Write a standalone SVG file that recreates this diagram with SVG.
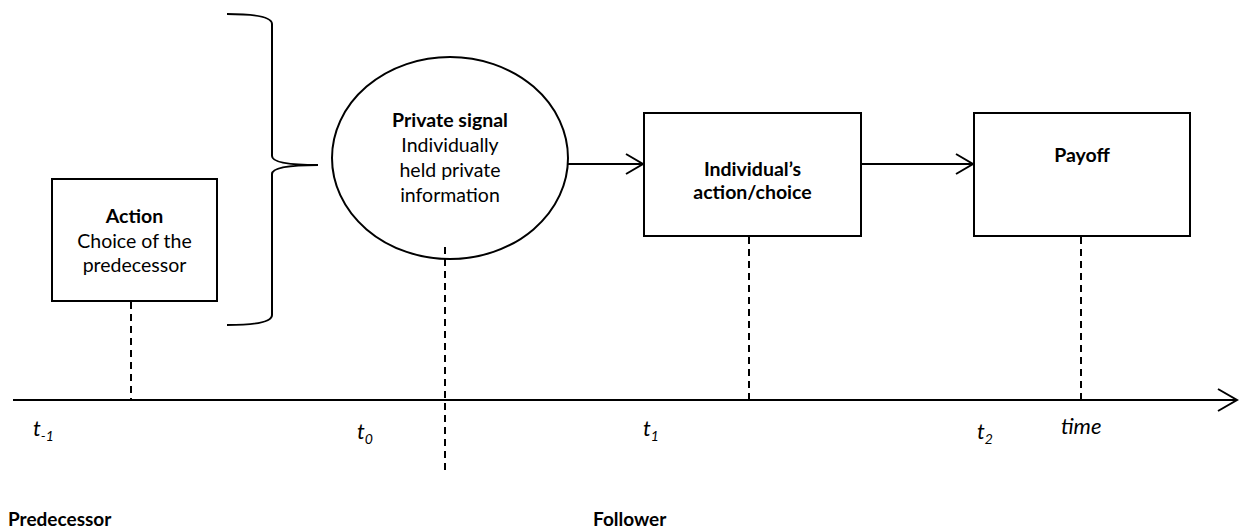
<svg xmlns="http://www.w3.org/2000/svg" width="1246" height="532" viewBox="0 0 1246 532">
  <style>
    .box { fill: #fff; stroke: #000; stroke-width: 2; }
    .line { fill: none; stroke: #000; stroke-width: 2; }
    .dash { fill: none; stroke: #000; stroke-width: 2; stroke-dasharray: 7 5; }
    .t { font-family: Lato, "Liberation Sans", sans-serif; font-size: 19.5px; fill: #000; text-anchor: middle; }
    .b { font-weight: bold; }
    .it { font-family: Lato, "Liberation Sans", sans-serif; font-style: italic; font-size: 22px; fill: #000; }
    .sub { font-size: 14px; }
    .lbl { font-family: Lato, "Liberation Sans", sans-serif; font-weight: bold; font-size: 19px; fill: #000; }
  </style>
  <defs>
    <marker id="open" viewBox="0 0 20 24" refX="18" refY="12" markerWidth="20" markerHeight="24" markerUnits="userSpaceOnUse" orient="auto">
      <path d="M1,2 L18,12 L1,22" fill="none" stroke="#000" stroke-width="2"/>
    </marker>
  </defs>

  <!-- time axis -->
  <g id="axis">
    <line class="line" x1="13" y1="400" x2="1237" y2="400"/>
    <path class="line" d="M1218,389 L1237,400 L1218,411"/>
    <text class="it" x="33" y="436">t<tspan class="sub" dy="5">-1</tspan></text>
    <text class="it" x="357" y="439">t<tspan class="sub" dy="5">0</tspan></text>
    <text class="it" x="643" y="436">t<tspan class="sub" dy="5">1</tspan></text>
    <text class="it" x="977" y="439">t<tspan class="sub" dy="5">2</tspan></text>
    <text class="it" x="1061" y="434">time</text>
  </g>

  <!-- brace grouping the predecessor's action -->
  <g id="brace">
    <path class="line" d="M227,14 Q272,14 272,24 L272,156 Q272,165 318,165 Q272,165 272,174 L272,315 Q272,325 227,325"/>
  </g>

  <g id="action">
    <rect class="box" x="52" y="179" width="165" height="122"/>
    <text class="t b" x="134.5" y="223">Action</text>
    <text class="t" x="134.5" y="248">Choice of the</text>
    <text class="t" x="134.5" y="272">predecessor</text>
  </g>

  <g id="signal">
    <ellipse class="box" cx="450" cy="158" rx="118" ry="101"/>
    <text class="t b" x="450" y="127">Private signal</text>
    <text class="t" x="450" y="152">Individually</text>
    <text class="t" x="450" y="177">held private</text>
    <text class="t" x="450" y="202">information</text>
  </g>

  <g id="choice">
    <rect class="box" x="644" y="113" width="217" height="123"/>
    <text class="t b" x="752.5" y="176">Individual’s</text>
    <text class="t b" x="752.5" y="199">action/choice</text>
  </g>

  <g id="payoff">
    <rect class="box" x="974" y="113" width="216" height="123"/>
    <text class="t b" x="1082" y="162">Payoff</text>
  </g>

  <!-- connectors and time markers -->
  <g id="connectors">
    <line class="line" x1="568" y1="164" x2="643" y2="164" marker-end="url(#open)"/>
    <line class="line" x1="861" y1="164" x2="973" y2="164" marker-end="url(#open)"/>
    <line class="dash" x1="131" y1="302" x2="131" y2="400"/>
    <line class="dash" x1="445" y1="247" x2="445" y2="470"/>
    <line class="dash" x1="749" y1="237" x2="749" y2="400"/>
    <line class="dash" x1="1081" y1="237" x2="1081" y2="400"/>
  </g>

  <g id="roles">
    <text class="lbl" x="8" y="526">Predecessor</text>
    <text class="lbl" x="593" y="526">Follower</text>
  </g>
</svg>
